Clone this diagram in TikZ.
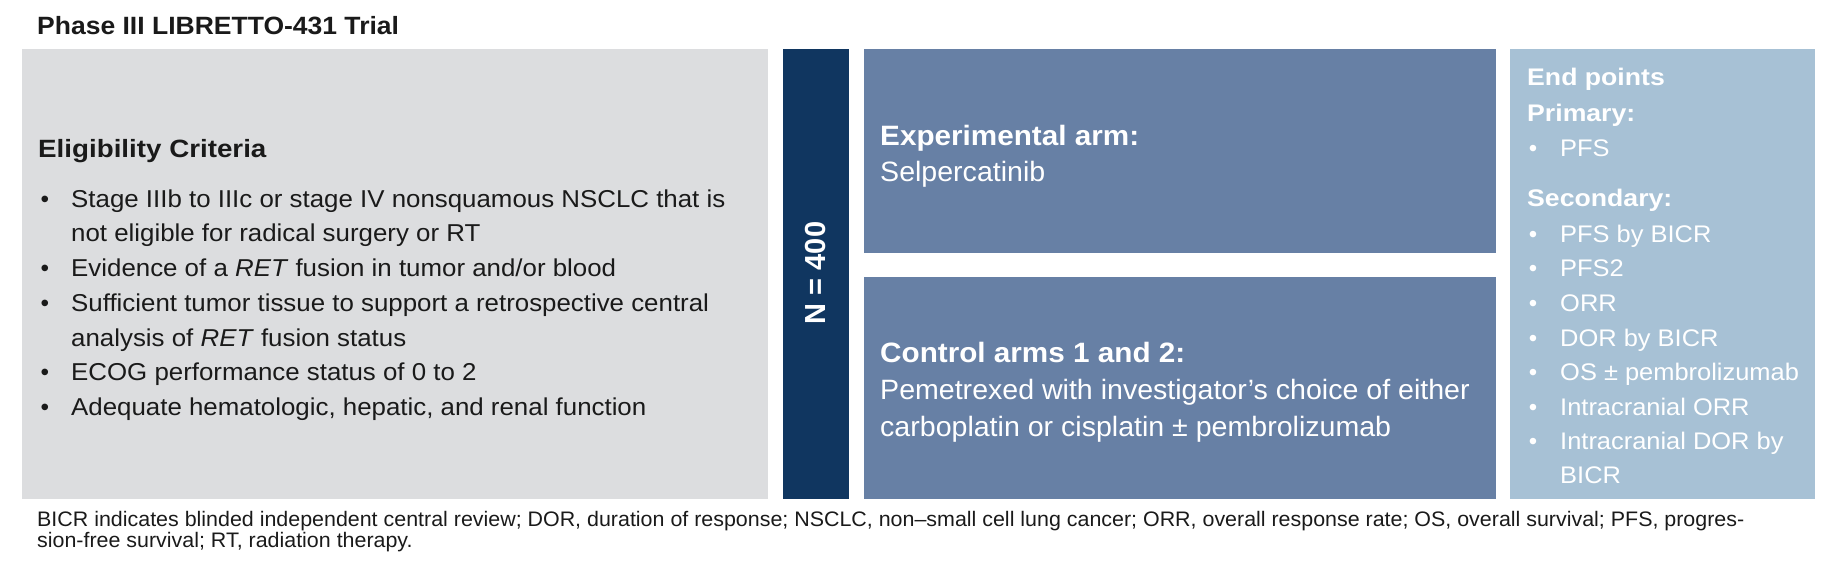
\documentclass[tikz,border=0pt]{standalone}
\usepackage{fontspec}
\setmainfont{Liberation Sans}
\newfontfamily\fA{Liberation Sans}[FakeStretch=1.02]
\newfontfamily\fB{Liberation Sans}[FakeStretch=1.06]
\newfontfamily\fC{Liberation Sans}[FakeStretch=1.11]
\definecolor{boxgray}{HTML}{DCDDDF}
\definecolor{navy}{HTML}{103660}
\definecolor{armblue}{HTML}{6780A5}
\definecolor{endblue}{HTML}{A7C1D5}
\definecolor{ink}{HTML}{1A1A1A}
\begin{document}
\begin{tikzpicture}[x=1pt,y=-1pt,
  txt/.style={inner sep=0pt, anchor=base west, text=ink, font=\fB\fontsize{24.4}{24.4}\selectfont},
  ttl/.style={inner sep=0pt, anchor=base west, text=ink, font=\fB\fontsize{25}{25}\selectfont\bfseries},
  hd/.style={inner sep=0pt, anchor=base west, text=ink, font=\fC\fontsize{25}{25}\selectfont\bfseries},
  bul/.style={inner sep=0pt, anchor=base, text=ink, font=\fontsize{24.4}{24.4}\selectfont},
  armhd/.style={inner sep=0pt, anchor=base west, text=white, font=\fB\fontsize{28}{28}\selectfont\bfseries},
  armtx/.style={inner sep=0pt, anchor=base west, text=white, font=\fA\fontsize{28}{28}\selectfont},
  endhd/.style={inner sep=0pt, anchor=base west, text=white, font=\fC\fontsize{24}{24}\selectfont\bfseries},
  endtx/.style={inner sep=0pt, anchor=base west, text=white, font=\fB\fontsize{24}{24}\selectfont},
  endbul/.style={inner sep=0pt, anchor=base, text=white, font=\fontsize{24}{24}\selectfont},
  foot/.style={inner sep=0pt, anchor=base west, text=ink, font=\fA\fontsize{21}{21}\selectfont}]
\useasboundingbox (0,0) rectangle (1832,576);
% boxes
\fill[boxgray] (22,49) rectangle (768,499);
\fill[navy] (783,49) rectangle (849,499);
\fill[armblue] (864,49) rectangle (1496,253);
\fill[armblue] (864,277) rectangle (1496,499);
\fill[endblue] (1510,49) rectangle (1815,499);
% title
\node[ttl] (title) at (37,34) {Phase III LIBRETTO-431 Trial};
% eligibility
\node[hd] (elig) at (38,157) {Eligibility Criteria};
\node[bul] (b1) at (45,207.3) {\textbullet};
\node[txt] (e1a) at (71,207.3) {Stage IIIb to IIIc or stage IV nonsquamous NSCLC that is};
\node[txt] (e1b) at (71,241.7) {not eligible for radical surgery or RT};
\node[bul] (b2) at (45,276.7) {\textbullet};
\node[txt] (e2) at (71,276.7) {Evidence of a \textit{RET} fusion in tumor and/or blood};
\node[bul] (b3) at (45,311.7) {\textbullet};
\node[txt] (e3a) at (71,311.7) {Sufficient tumor tissue to support a retrospective central};
\node[txt] (e3b) at (71,346) {analysis of \textit{RET} fusion status};
\node[bul] (b4) at (45,380.5) {\textbullet};
\node[txt] (e4) at (71,380.5) {ECOG performance status of 0 to 2};
\node[bul] (b5) at (45,415) {\textbullet};
\node[txt] (e5) at (71,415) {Adequate hematologic, hepatic, and renal function};
% N
\node[inner sep=0pt, rotate=90, text=white, font=\fontsize{29}{29}\selectfont\bfseries] (n) at (816,273) {N = 400};
% arms
\node[armhd] (exph) at (880,145) {Experimental arm:};
\node[armtx] (expt) at (880,181.7) {Selpercatinib};
\node[armhd] (ctlh) at (880,362.7) {Control arms 1 and 2:};
\node[armtx] (ctl1) at (880,399.3) {Pemetrexed with investigator’s choice of either};
\node[armtx] (ctl2) at (880,436.7) {carboplatin or cisplatin ± pembrolizumab};
% end points
\node[endhd] (ep) at (1527,85.7) {End points};
\node[endhd] (pri) at (1527,121) {Primary:};
\node[endbul] (pb1) at (1533,156.7) {\textbullet};
\node[endtx] (p1) at (1560,156.7) {PFS};
\node[endhd] (sec) at (1527,206.7) {Secondary:};
\node[endbul] (sb1) at (1533,242.3) {\textbullet};
\node[endtx] (s1) at (1560,242.3) {PFS by BICR};
\node[endbul] (sb2) at (1533,276.7) {\textbullet};
\node[endtx] (s2) at (1560,276.7) {PFS2};
\node[endbul] (sb3) at (1533,311.7) {\textbullet};
\node[endtx] (s3) at (1560,311.7) {ORR};
\node[endbul] (sb4) at (1533,346) {\textbullet};
\node[endtx] (s4) at (1560,346) {DOR by BICR};
\node[endbul] (sb5) at (1533,380.7) {\textbullet};
\node[endtx] (s5) at (1560,380.7) {OS ± pembrolizumab};
\node[endbul] (sb6) at (1533,415) {\textbullet};
\node[endtx] (s6) at (1560,415) {Intracranial ORR};
\node[endbul] (sb7) at (1533,449.3) {\textbullet};
\node[endtx] (s7a) at (1560,449.3) {Intracranial DOR by};
\node[endtx] (s7b) at (1560,483.3) {BICR};
% footnote
\node[foot] (f1) at (37,526) {BICR indicates blinded independent central review; DOR, duration of response; NSCLC, non–small cell lung cancer; ORR, overall response rate; OS, overall survival; PFS, progres-};
\node[foot] (f2) at (37,547) {sion-free survival; RT, radiation therapy.};
\end{tikzpicture}
\end{document}
